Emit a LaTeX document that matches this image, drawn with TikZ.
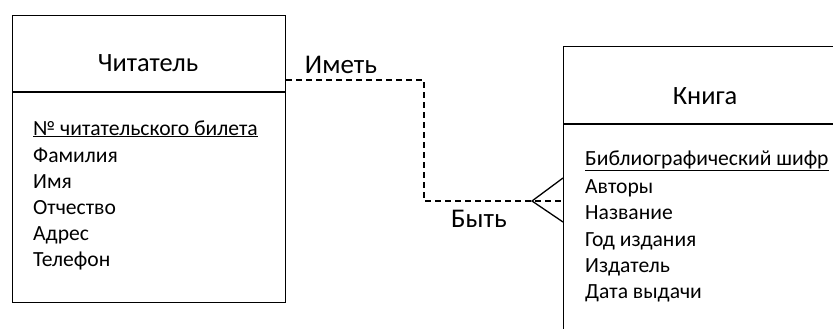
\documentclass[tikz,border=0pt]{standalone}
\usepackage{fontspec}
\setmainfont{Carlito}
\begin{document}
\begin{tikzpicture}[x=1pt,y=-1pt,
  entity/.style={draw,line width=1.3pt,inner sep=0pt,anchor=north west},
  divider/.style={line width=1.3pt},
  title/.style={font=\fontsize{26.4}{30}\selectfont,inner sep=0pt},
  attr/.style={font=\fontsize{21.6}{26}\selectfont,inner sep=0pt,anchor=base west},
  rel/.style={font=\fontsize{27}{30}\selectfont,inner sep=0pt},
  link/.style={dashed,dash pattern=on 6pt off 4pt,line width=1.6pt},
  crow/.style={line width=1.3pt}]
\useasboundingbox (0,0) rectangle (833,329);
\begin{scope}
\clip (0,0) rectangle (833,329);
% Reader entity
\node[entity,minimum width=273pt,minimum height=287pt] (reader) at (12,15) {};
\draw[divider] (12,92) -- (285,92);
\node[title] (rtitle) at (148,63) {Читатель};
\node[attr] (r1) at (33,135) {\underline{№ читательского билета}};
\node[attr] (r2) at (33,162) {Фамилия};
\node[attr] (r3) at (33,188) {Имя};
\node[attr] (r4) at (33,214) {Отчество};
\node[attr] (r5) at (33,240) {Адрес};
\node[attr] (r6) at (33,266) {Телефон};
% Book entity
\node[entity,minimum width=300pt,minimum height=300pt] (book) at (563,46) {};
\draw[divider] (563,124) -- (863,124);
\node[title] (btitle) at (705,96) {Книга};
\node[attr] (b1) at (585,165) {\underline{Библиографический шифр}};
\node[attr] (b2) at (585,193) {Авторы};
\node[attr] (b3) at (585,219) {Название};
\node[attr] (b4) at (585,246) {Год издания};
\node[attr] (b5) at (585,272) {Издатель};
\node[attr] (b6) at (585,298) {Дата выдачи};
\end{scope}
% Relationship
\coordinate (c1) at (424,80);
\coordinate (c2) at (424,201);
\coordinate (tip) at (532,201);
\draw[link] (reader.east |- c1) -- (c1) -- (c2) -- (book.west |- c2);
\draw[crow] (book.west |- 0,178) -- (tip) -- (book.west |- 0,222);
\node[rel] (has) at (341,65) {Иметь};
\node[rel] (be) at (479,219) {Быть};
\end{tikzpicture}
\end{document}
